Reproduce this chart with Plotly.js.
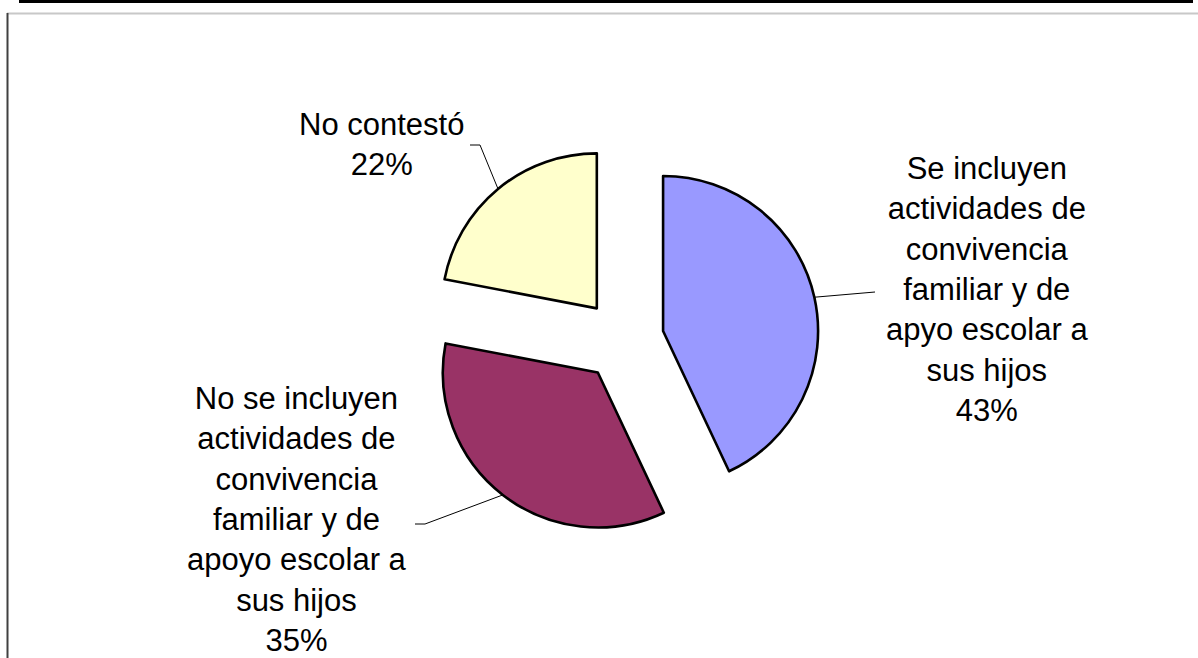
<!DOCTYPE html>
<html>
<head>
<meta charset="utf-8">
<script src="https://cdn.plot.ly/plotly-3.0.1.min.js"></script>
<style>
  html, body { margin: 0; padding: 0; background: #ffffff; }
  #chart { width: 1198px; height: 658px; }
</style>
</head>
<body>
<div id="chart"></div>
<script>
// ---- data ----
var categories = [
  "Se incluyen<br>actividades de<br>convivencia<br>familiar y de<br>apyo escolar a<br>sus hijos",
  "No se incluyen<br>actividades de<br>convivencia<br>familiar y de<br>apoyo escolar a<br>sus hijos",
  "No contestó"
];
var percentages = [43, 35, 22];
var sliceColors = ["#9999FF", "#993366", "#FFFFCC"];

// ---- geometry (pixels) ----
var W = 1198, H = 658;
var CX = 623, CY = 340, R = 155, PULL = 0.265;
var half = R * (1 + PULL);

function px(x) { return x / W; }
function py(y) { return 1 - y / H; }

var trace = {
  type: "pie",
  values: percentages,
  labels: categories,
  marker: { colors: sliceColors, line: { color: "#000000", width: 2.6 } },
  direction: "clockwise",
  rotation: 0,
  sort: false,
  pull: PULL,
  textinfo: "none",
  hoverinfo: "skip",
  showlegend: false,
  domain: { x: [px(CX - half), px(CX + half)], y: [py(CY + half), py(CY - half)] }
};

// leader-line tips at mid-angle of each slice, on its arc
var total = percentages.reduce(function (a, b) { return a + b; }, 0);
var tips = [];
var acc = 0;
for (var i = 0; i < percentages.length; i++) {
  var mid = (acc + percentages[i] / 2) / total * 2 * Math.PI;
  acc += percentages[i];
  var d = R * (1 + PULL);
  tips.push([CX + d * Math.sin(mid), CY - d * Math.cos(mid)]);
}

// label centres and leader tails (pixels)
var labelPos = [[987, 290], [297, 519], [381, 145]];
var leaderTails = [
  [[875, 292]],
  [[415, 524], [425, 524]],
  [[470, 145], [480, 145]]
];

var annotations = [];
var shapes = [];
for (var k = 0; k < categories.length; k++) {
  annotations.push({
    xref: "paper", yref: "paper",
    x: px(labelPos[k][0]), y: py(labelPos[k][1]),
    xanchor: "center", yanchor: "middle",
    text: categories[k] + "<br>" + percentages[k] + "%",
    showarrow: false,
    align: "center",
    font: { family: "Liberation Sans, Arial, sans-serif", size: 31, color: "#000000" }
  });
  var pts = leaderTails[k].concat([tips[k]]);
  var path = "";
  for (var j = 0; j < pts.length; j++) {
    path += (j === 0 ? "M " : " L ") + px(pts[j][0]) + "," + py(pts[j][1]);
  }
  shapes.push({ type: "path", xref: "paper", yref: "paper", path: path,
    line: { color: "#000000", width: 1 } });
}

// frame and table remnants
shapes.push({ type: "line", xref: "paper", yref: "paper",
  x0: px(7), x1: px(1198), y0: py(13.5), y1: py(13.5),
  line: { color: "#c8c8c8", width: 2 } });
shapes.push({ type: "line", xref: "paper", yref: "paper",
  x0: px(7.5), x1: px(7.5), y0: py(13), y1: py(658),
  line: { color: "#404040", width: 2 } });
shapes.push({ type: "line", xref: "paper", yref: "paper",
  x0: px(19), x1: px(1193), y0: py(1.5), y1: py(1.5),
  line: { color: "#000000", width: 3 } });
[572, 884, 1192].forEach(function (x) {
  shapes.push({ type: "line", xref: "paper", yref: "paper",
    x0: px(x), x1: px(x), y0: py(0), y1: py(3),
    line: { color: "#000000", width: 1.5 } });
});

var layout = {
  width: W, height: H,
  margin: { l: 0, r: 0, t: 0, b: 0 },
  paper_bgcolor: "#ffffff",
  plot_bgcolor: "#ffffff",
  annotations: annotations,
  shapes: shapes,
  showlegend: false
};

Plotly.newPlot("chart", [trace], layout, { displayModeBar: false, staticPlot: true });
</script>
</body>
</html>
